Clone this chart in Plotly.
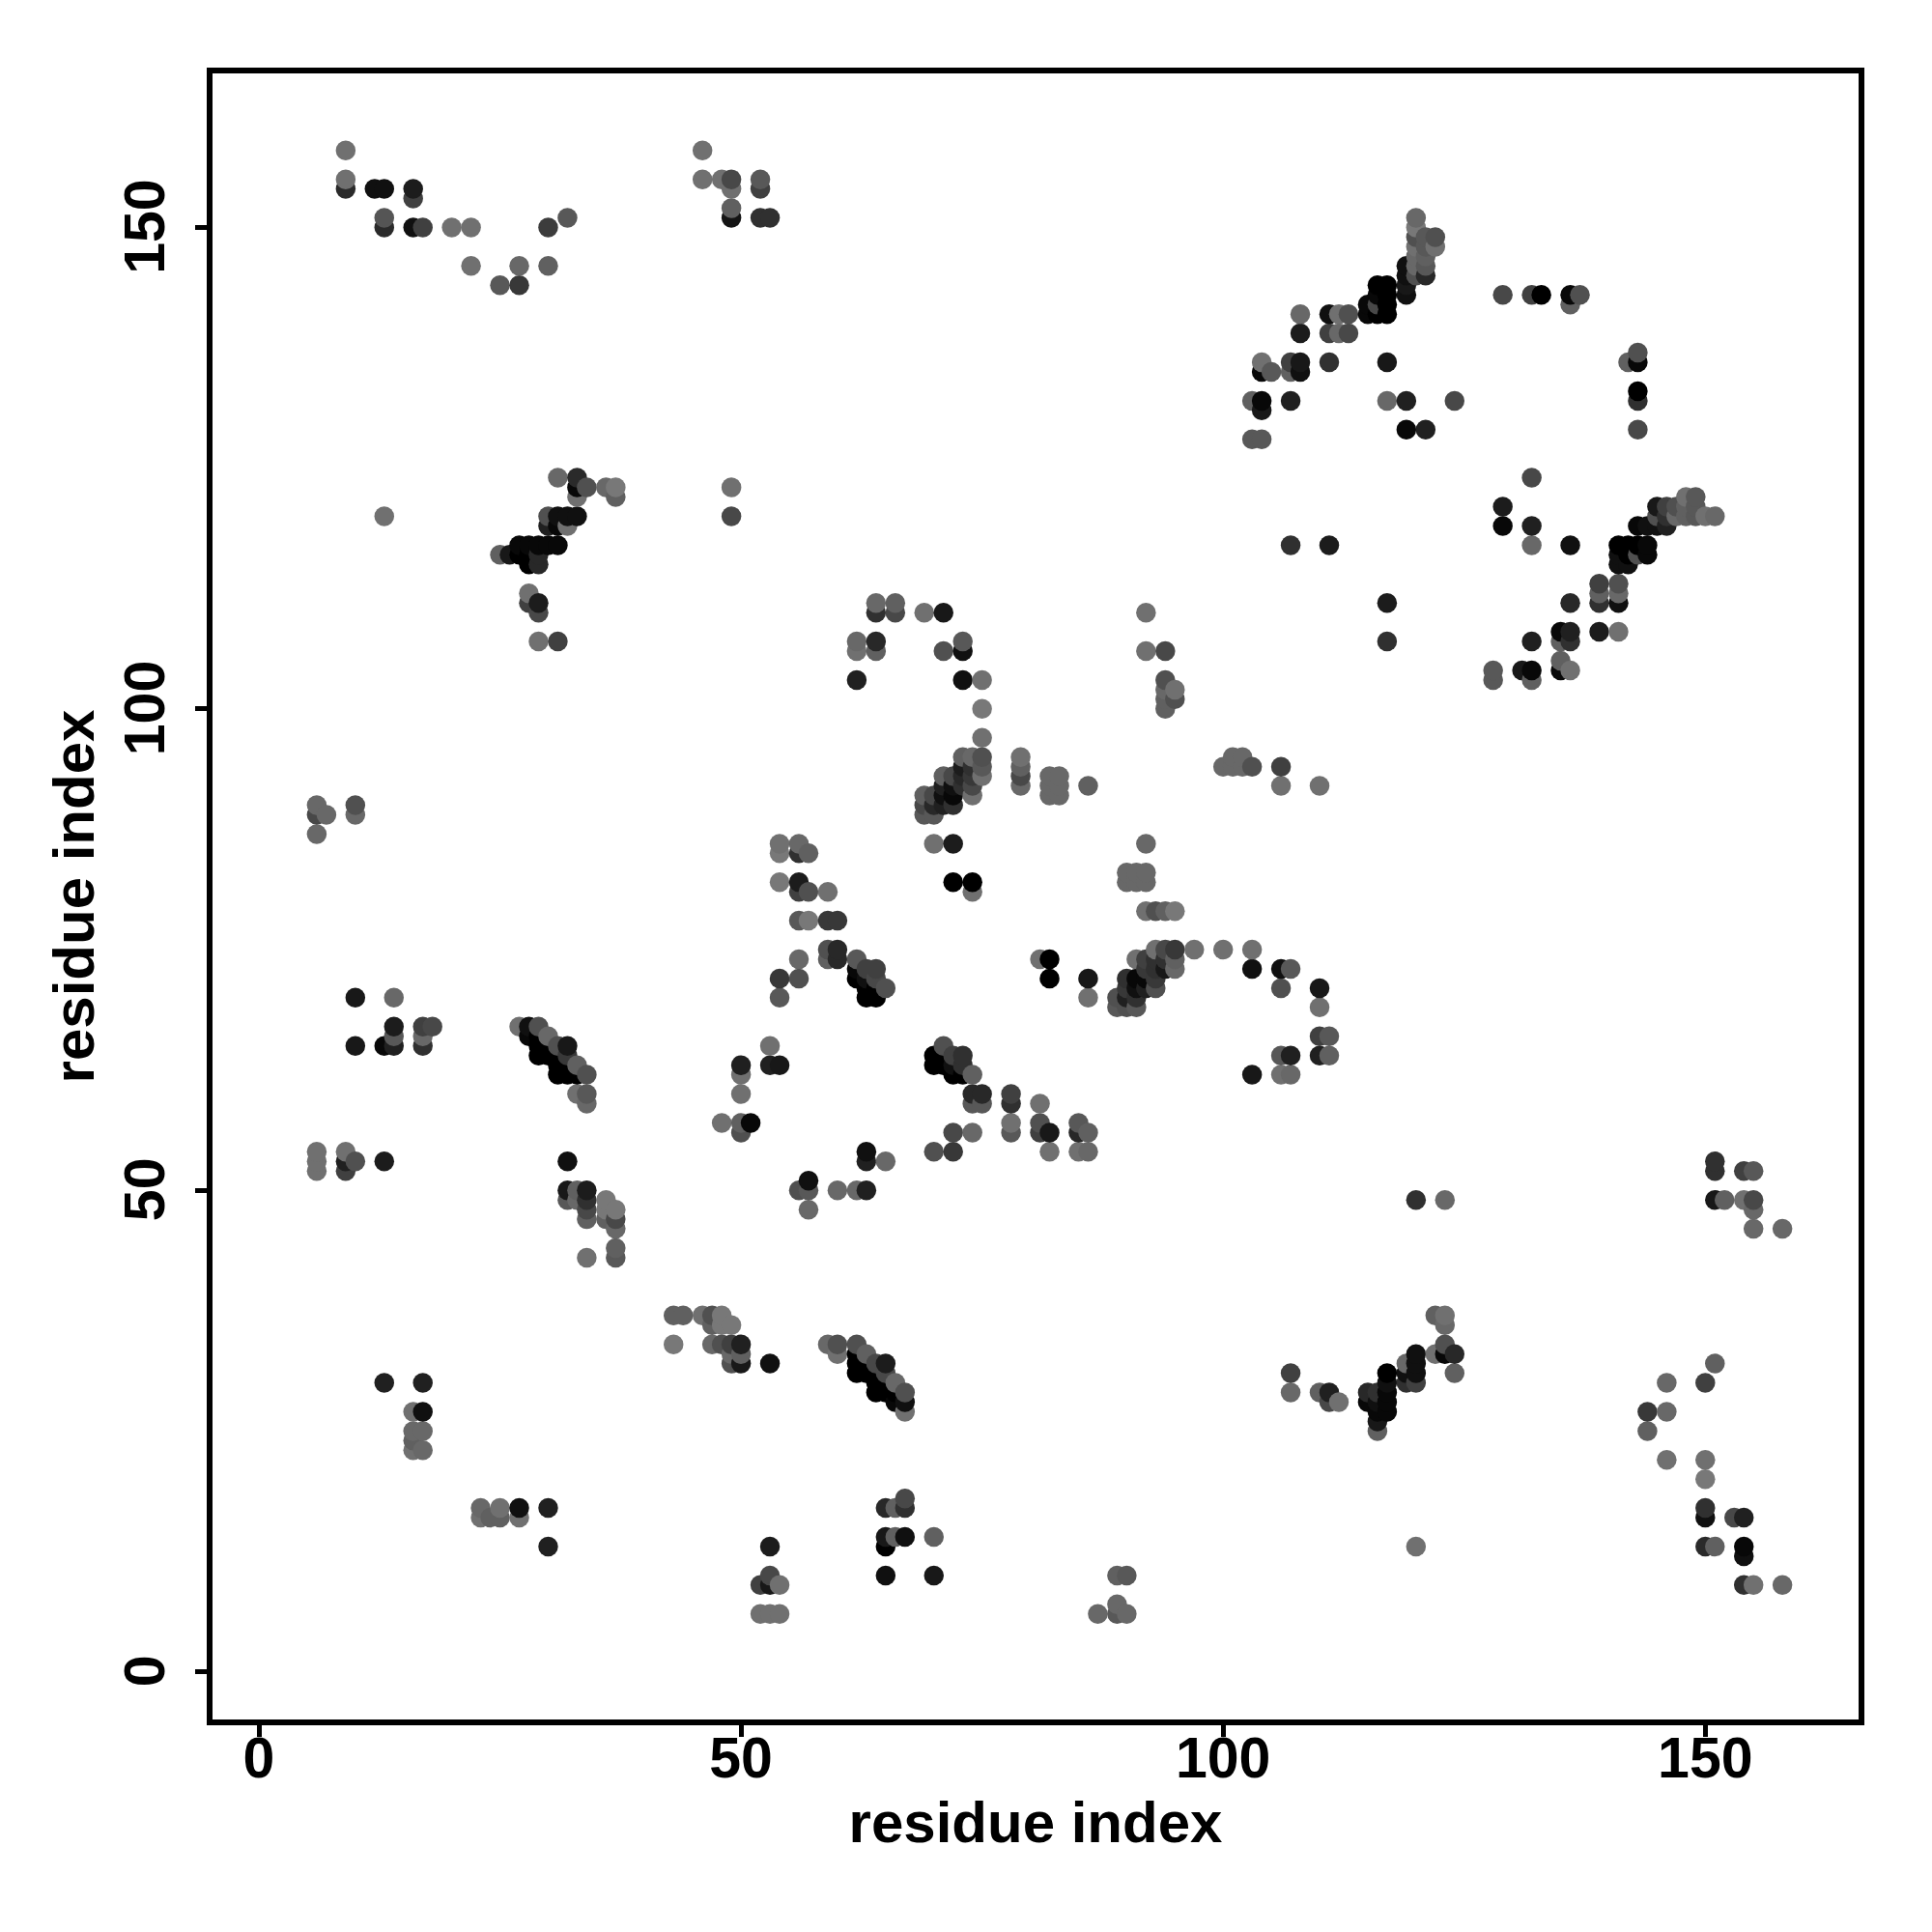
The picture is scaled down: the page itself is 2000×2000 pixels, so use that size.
import plotly.graph_objects as go

# (residue i, residue j, grey level of the contact)
top_left = [(9,158,0x70),(9,155,0x70),(9,154,0x2a),(12,154,0x10),(13,154,0x10),(16,154,0x1c),(16,153,0x40),
 (13,151,0x55),(13,150,0x2a),(16,150,0x10),(17,150,0x40),(20,150,0x70),(22,150,0x70),(22,146,0x70),(25,144,0x58),
 (27,144,0x38),(27,146,0x68),(30,150,0x3c),(30,146,0x60),(32,151,0x58)]
top_mid = [(46,158,0x70),(46,155,0x70),(48,155,0x70),(49,155,0x48),(49,154,0x70),(49,152,0x60),(49,151,0x14),
 (52,155,0x58),(52,154,0x40),(52,151,0x30),(53,151,0x30)]
upper_left = [(31,124,0x68),(33,124,0x2a),(33,123,0x08),(34,123,0x50),(36,123,0x68),(37,123,0x78),(37,122,0x60),(33,122,0x70),
 (13,120,0x70),(49,123,0x70),(49,120,0x48),(30,120,0x50),(31,120,0x10),(32,120,0x10),(33,120,0x10),(30,119,0x20),(31,119,0x08),(32,119,0x70),
 (27,117,0x08),(28,117,0x08),(29,117,0x08),(30,117,0x08),(31,117,0x08),(25,116,0x60),(26,116,0x18),(27,116,0x00),(28,116,0x00),(29,116,0x28),
 (28,115,0x00),(29,115,0x28),(28,112,0x70),(28,111,0x40),(29,111,0x1c),(29,110,0x48),(29,107,0x70),(31,107,0x40)]
centre_top = [(64,111,0x68),(64,110,0x30),(66,111,0x60),(66,110,0x48),(69,110,0x70),(71,110,0x18),(62,107,0x68),(62,106,0x70),(64,107,0x28),(64,106,0x60),
 (71,106,0x50),(73,107,0x58),(73,106,0x10),(62,103,0x20),(73,103,0x10),(75,103,0x70),(75,100,0x78),(75,97,0x70),
 (73,95,0x60),(74,95,0x68),(75,95,0x50),(73,94,0x1c),(74,94,0x30),(75,94,0x58),(71,93,0x60),(72,93,0x48),(73,93,0x28),(74,93,0x38),(75,93,0x70),
 (71,92,0x20),(72,92,0x10),(73,92,0x30),(74,92,0x48),(69,91,0x60),(70,91,0x48),(71,91,0x10),(72,91,0x08),(74,91,0x70),
 (69,90,0x48),(70,90,0x28),(71,90,0x20),(72,90,0x30),(69,89,0x58),(70,89,0x58),
 (79,95,0x70),(79,94,0x60),(79,93,0x48),(79,92,0x68),(82,93,0x68),(82,92,0x68),(82,91,0x68),(83,93,0x68),(83,92,0x68),(83,91,0x68),(86,92,0x60),
 (92,110,0x70),(92,106,0x70),(94,106,0x48),(94,103,0x50),(94,102,0x68),(95,102,0x70),(94,101,0x60),(95,101,0x50),(94,100,0x60),
 (100,94,0x68),(101,94,0x68),(102,94,0x68),(103,94,0x50),(101,95,0x68),(102,95,0x68),(106,94,0x40),(106,92,0x70),(110,92,0x70)]
centre = [(70,86,0x70),(72,86,0x1c),(92,86,0x68),(54,86,0x70),(54,85,0x78),(56,86,0x68),(56,85,0x30),(57,85,0x60),
 (54,82,0x78),(56,82,0x1c),(56,81,0x40),(57,81,0x50),(59,81,0x70),(56,78,0x58),(57,78,0x78),(59,78,0x38),(60,78,0x38),
 (59,75,0x50),(60,75,0x28),(59,74,0x60),(60,74,0x28),(56,74,0x68),(54,72,0x38),(56,72,0x50),(54,70,0x58),
 (62,74,0x58),(63,73,0x40),(64,73,0x40),(62,73,0x08),(62,72,0x00),(63,72,0x10),(64,72,0x48),(63,71,0x00),(64,71,0x00),(65,71,0x50),(63,70,0x00),(64,70,0x00),
 (72,82,0x00),(74,82,0x00),(74,81,0x70),(81,74,0x70),(82,74,0x00),(82,72,0x00),(86,72,0x18),(86,70,0x70),
 (92,83,0x68),(90,83,0x68),(91,83,0x68),(90,82,0x68),(91,82,0x68),(92,82,0x68),(92,79,0x70),(93,79,0x50),(94,79,0x60),(95,79,0x78),
 (93,75,0x70),(94,75,0x48),(95,75,0x38),(97,75,0x70),(100,75,0x70),(103,75,0x70),
 (91,74,0x70),(92,74,0x40),(93,74,0x30),(94,74,0x30),(95,74,0x60),(92,73,0x38),(93,73,0x30),(94,73,0x18),(95,73,0x68),(103,73,0x10),(106,73,0x10),(107,73,0x58),
 (90,72,0x30),(91,72,0x08),(92,72,0x08),(93,72,0x38),(90,71,0x38),(91,71,0x10),(92,71,0x20),(93,71,0x50),(106,71,0x50),(110,71,0x18),
 (89,70,0x50),(90,70,0x20),(91,70,0x30),(89,69,0x58),(90,69,0x50),(91,69,0x58),(110,69,0x70),
 (110,66,0x40),(111,66,0x58),(110,64,0x20),(111,64,0x60),(106,64,0x58),(107,64,0x20),(106,62,0x70),(107,62,0x68),(103,62,0x18)]
lower_centre = [(71,65,0x50),(70,64,0x00),(71,64,0x00),(72,64,0x40),(73,64,0x30),(70,63,0x00),(71,63,0x00),(72,63,0x10),(73,63,0x30),(72,62,0x00),(73,62,0x00),(74,62,0x60),
 (74,60,0x28),(75,60,0x28),(74,59,0x58),(75,59,0x58),(78,60,0x40),(78,59,0x30),(78,57,0x70),(78,56,0x58),(81,59,0x70),(81,57,0x50),(81,56,0x40),(82,56,0x18),
 (85,57,0x58),(85,56,0x28),(86,56,0x60),(72,56,0x48),(74,56,0x68),(70,54,0x50),(72,54,0x38),(82,54,0x70),(85,54,0x70),(86,54,0x68),
 (63,54,0x10),(63,53,0x20),(65,53,0x68),(63,50,0x20)]
upper_right = [(120,151,0x68),(120,150,0x78),(120,149,0x50),(121,149,0x58),(122,149,0x50),(120,148,0x70),(121,148,0x58),(122,148,0x70),(120,147,0x68),(121,147,0x60),
 (120,146,0x68),(121,146,0x58),(119,146,0x10),(119,145,0x10),(120,145,0x50),(121,145,0x28),(119,144,0x18),(119,143,0x10),
 (116,144,0x00),(117,144,0x00),(116,143,0x08),(117,143,0x00),(116,142,0x48),(117,142,0x00),(115,142,0x08),(115,141,0x08),(116,141,0x00),(117,141,0x00),
 (108,141,0x68),(108,139,0x1c),(111,141,0x10),(112,141,0x70),(113,141,0x50),(111,139,0x40),(112,139,0x68),(113,139,0x48),
 (104,136,0x70),(104,135,0x08),(105,135,0x58),(107,136,0x40),(107,135,0x60),(108,136,0x18),(108,135,0x10),(111,136,0x30),(117,136,0x18),
 (103,132,0x60),(104,132,0x08),(104,131,0x18),(107,132,0x20),(117,132,0x68),(119,132,0x20),(124,132,0x48),(119,129,0x08),(121,129,0x20),(103,128,0x58),(104,128,0x58),
 (129,143,0x48),(132,143,0x40),(133,143,0x00),(136,143,0x08),(137,143,0x50),(136,142,0x60),(142,136,0x60),(143,137,0x50),(143,136,0x08),(143,133,0x00),(143,132,0x30),(143,129,0x48)]
right = [(132,124,0x48),(129,121,0x1c),(129,119,0x08),(132,119,0x20),(132,117,0x68),(136,117,0x10),(107,117,0x30),(111,117,0x1c),
 (148,122,0x70),(149,122,0x58),(145,121,0x18),(146,121,0x40),(147,121,0x50),(148,121,0x60),(149,121,0x58),(145,120,0x50),(146,120,0x30),(147,120,0x68),(148,120,0x60),(149,120,0x58),(150,120,0x70),(151,120,0x68),
 (143,119,0x08),(144,119,0x10),(145,119,0x10),(146,119,0x20),(141,117,0x00),(142,117,0x00),(143,117,0x00),(144,117,0x08),(141,116,0x10),(142,116,0x00),(143,116,0x50),(144,116,0x08),(141,115,0x10),(142,115,0x10),
 (139,113,0x40),(139,112,0x60),(139,111,0x30),(141,113,0x50),(141,112,0x68),(141,111,0x10),(136,111,0x28),(117,111,0x1c),(117,107,0x30),(139,108,0x1c),(141,108,0x70),
 (135,108,0x08),(136,108,0x20),(135,107,0x60),(136,107,0x30),(132,107,0x20),(128,104,0x58),(128,103,0x58),(131,104,0x18),(132,104,0x08),(132,103,0x60),(135,105,0x60),(135,104,0x08),(136,104,0x70)]
left_mid = [(6,90,0x68),(6,89,0x48),(7,89,0x68),(6,87,0x68),(10,90,0x50),(10,89,0x68),(10,70,0x18),(14,70,0x68),(14,67,0x1c),(17,67,0x40),(18,67,0x48),(14,66,0x58),(17,66,0x68),
 (10,65,0x18),(13,65,0x08),(14,65,0x20),(17,65,0x30),(27,67,0x70),(28,67,0x10),(29,67,0x50),(28,66,0x08),(29,66,0x00),(30,66,0x68),(29,65,0x00),(30,65,0x00),(31,65,0x50),(32,65,0x18),
 (29,64,0x00),(30,64,0x00),(31,64,0x00),(32,64,0x38),(31,63,0x00),(32,63,0x00),(33,63,0x60),(31,62,0x00),(32,62,0x00),(33,62,0x00),(34,62,0x50),(33,60,0x70),(34,60,0x58),(34,59,0x68),
 (53,65,0x70),(53,63,0x20),(54,63,0x18),(50,63,0x20),(50,62,0x70),(50,60,0x70),(48,57,0x70),(50,57,0x60),(51,57,0x08),(50,56,0x50),
 (6,54,0x70),(6,53,0x70),(6,52,0x70),(9,54,0x70),(9,53,0x20),(9,52,0x40),(10,53,0x50),(13,53,0x1c),(32,53,0x10),(32,50,0x18),(32,49,0x58),(33,50,0x60),(33,49,0x68),
 (34,50,0x1c),(34,49,0x30),(34,48,0x48),(34,47,0x60),(36,49,0x78),(36,48,0x78),(36,47,0x60),(37,48,0x78),(37,47,0x48),(37,46,0x68),(37,44,0x60),(37,43,0x58),(34,43,0x70),
 (57,51,0x10),(56,50,0x50),(57,50,0x58),(60,50,0x68),(62,50,0x68),(57,48,0x68)]
lower_mid = [(43,37,0x60),(44,37,0x60),(46,37,0x70),(47,37,0x50),(48,37,0x78),(47,36,0x60),(48,36,0x78),(49,36,0x78),(43,34,0x78),(47,34,0x68),(48,34,0x50),(49,34,0x40),(50,34,0x20),
 (49,33,0x68),(50,33,0x60),(49,32,0x50),(50,32,0x18),(53,32,0x10),(59,34,0x68),(60,34,0x50),(60,33,0x70),(62,34,0x50),(63,33,0x60),(62,33,0x00),(62,32,0x00),(62,31,0x00),(63,32,0x00),(63,31,0x00),
 (64,32,0x48),(65,32,0x1c),(64,31,0x00),(65,31,0x48),(64,30,0x00),(65,30,0x00),(66,30,0x68),(64,29,0x00),(65,29,0x00),(66,29,0x00),(67,29,0x50),(66,28,0x08),(67,28,0x10),(67,27,0x70),
 (67,18,0x48),(67,17,0x30),(65,17,0x28),(66,17,0x60),(65,14,0x18),(66,14,0x60),(67,14,0x10),(65,13,0x00),(70,14,0x60),(65,10,0x10),(70,10,0x18),
 (53,13,0x1c),(53,10,0x48),(52,9,0x40),(53,9,0x18),(54,9,0x70),(52,6,0x70),(53,6,0x70),(54,6,0x70),
 (13,30,0x20),(17,30,0x20),(16,27,0x70),(17,27,0x10),(16,25,0x68),(17,25,0x68),(16,24,0x60),(16,23,0x70),(17,23,0x68),
 (23,17,0x68),(25,17,0x70),(27,17,0x10),(23,16,0x70),(24,16,0x60),(25,16,0x60),(27,16,0x70),(30,17,0x20),(30,13,0x20),
 (89,10,0x60),(90,10,0x58),(89,7,0x68),(87,6,0x68),(89,6,0x58),(90,6,0x68)]
lower_right = [(107,31,0x40),(107,29,0x68),(110,29,0x60),(111,29,0x20),(111,28,0x48),(112,28,0x70),(115,29,0x28),(116,29,0x30),(115,28,0x08),(116,28,0x10),
 (117,31,0x00),(117,30,0x10),(117,29,0x08),(117,28,0x08),(117,27,0x08),(116,27,0x08),(116,26,0x18),(116,25,0x60),(119,32,0x68),(119,31,0x10),(119,30,0x30),(120,33,0x10),(120,32,0x10),(120,31,0x10),(120,30,0x40),
 (122,37,0x60),(123,37,0x70),(123,36,0x68),(122,33,0x70),(123,34,0x50),(123,33,0x08),(124,33,0x28),(124,31,0x60),(120,49,0x30),(123,49,0x68),(120,13,0x70),
 (151,53,0x30),(151,52,0x30),(154,52,0x40),(155,52,0x58),(151,49,0x18),(152,49,0x60),(154,49,0x70),(155,49,0x48),(155,48,0x68),(155,46,0x68),(158,46,0x68),
 (151,32,0x60),(150,30,0x40),(146,30,0x68),(144,27,0x38),(146,27,0x68),(144,25,0x60),(146,22,0x70),(150,22,0x70),(150,20,0x78),(150,17,0x30),(150,16,0x10),(153,16,0x48),(154,16,0x20),
 (150,13,0x2a),(151,13,0x60),(154,13,0x08),(154,12,0x10),(154,9,0x30),(155,9,0x70),(158,9,0x68)]

tick_values = [0, 50, 100, 150]
axis_title = "residue index"

contacts = sorted(set(top_left + top_mid + upper_left + centre_top + centre + lower_centre + upper_right + right + left_mid + lower_mid + lower_right),
                  key=lambda c: (c[0], c[1]))

font = "Liberation Sans"
title_font = dict(family=font, size=60, color="black", weight="bold")
fig = go.Figure(go.Scatter(
    x=[c[0] for c in contacts], y=[c[1] for c in contacts], mode="markers",
    marker=dict(size=20.5, color=[c[2] for c in contacts], cmin=0, cmax=255,
                colorscale=[[0, "rgb(0,0,0)"], [1, "rgb(255,255,255)"]], showscale=False, line=dict(width=0)),
))
axis = dict(tickvals=tick_values, showgrid=False, zeroline=False, showline=True, mirror=True, linecolor="black", linewidth=5.5,
            ticks="outside", ticklen=12, tickwidth=5, tickcolor="black",
            tickfont=dict(family=font, size=59, color="black", weight="bold"))
fig.update_layout(
    width=2000, height=2000, paper_bgcolor="white", plot_bgcolor="white", showlegend=False,
    margin=dict(l=212, r=84, t=68, b=228, autoexpand=False),
    xaxis=dict(axis, range=[-4.81, 165.9], ticklabelstandoff=-29,
               title=dict(text=axis_title, standoff=7, font=title_font)),
    yaxis=dict(axis, range=[-4.96, 166.0], tickangle=-90, ticklabelstandoff=9, ticklabelshift=8,
               title=dict(text=axis_title, standoff=2, font=title_font)),
)
fig.write_html("out.html")
